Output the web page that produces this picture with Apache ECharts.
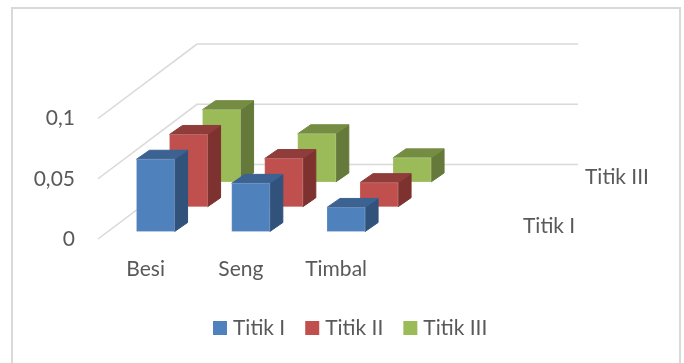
<!DOCTYPE html>
<html>
<head>
<meta charset="utf-8">
<style>html,body{margin:0;padding:0;background:#fff}#chart{width:684px;height:363px}</style>
<script src="https://cdn.jsdelivr.net/npm/echarts@6/dist/echarts.min.js"></script>
</head>
<body>
<div id="chart"></div>
<script>
// Metal readings per sampling point, drawn as a pseudo-3D column chart.
const categories = ['Besi', 'Seng', 'Timbal', ''];
const titikI = [0.06, 0.04, 0.02, null];
const titikII = [0.06, 0.04, 0.02, null];
const titikIII = [0.06, 0.04, 0.02, null];
const valueTicks = [0, 0.05, 0.1];
const depthLabels = ['Titik I', '', 'Titik III'];

const FONT = 'Lato';
const FONT_SIZE = 21;
const TEXT = '#595959';
const GRID_LINE = '#d9d9d9';

// Oblique projection: one depth row moves a point right and up by these pixels.
const ROW_DX = 33;
const ROW_DY = 24.8;
const ROW_COUNT = 3;
const BAR_SHARE = 0.4;      // bar width as a share of the category band
const BAR_DEPTH_DX = 13;
const BAR_DEPTH_DY = 9;
const ROW_INSET = 0.3;      // gap between a row's front edge and its bar
const LABEL_GAP = 44;       // floor's right end to the first row name
const LABEL_STEP = 31;      // horizontal step between row names

const palettes = [
  { front: '#4f81bd', side: '#31527b', top: '#3b6291' },
  { front: '#c0504d', side: '#7d322f', top: '#8f3c3a' },
  { front: '#9bbb59', side: '#64793a', top: '#758d43' }
];

function columnSeries(name, values, row) {
  const colors = palettes[row];
  return {
    type: 'custom',
    name: name,
    z: 10 - row,
    itemStyle: { color: colors.front },
    data: values.map((v, i) => [i, v]),
    renderItem(params, api) {
      if (api.value(1) === null || isNaN(api.value(1))) return null;
      const base = api.coord([api.value(0), 0]);
      const head = api.coord([api.value(0), api.value(1)]);
      const width = api.size([1, 0])[0] * BAR_SHARE;
      const shiftX = (row + ROW_INSET) * ROW_DX;
      const shiftY = (row + ROW_INSET) * ROW_DY;
      const l = base[0] + shiftX - width / 2;
      const r = l + width;
      const b = base[1] - shiftY;
      const t = head[1] - shiftY;
      const dx = BAR_DEPTH_DX;
      const dy = BAR_DEPTH_DY;
      const face = (points, fill, stroke) => ({
        type: 'polygon',
        shape: { points: points },
        style: { fill: fill, stroke: stroke, lineWidth: 1 }
      });
      return {
        type: 'group',
        children: [
          face([[r, b], [r + dx, b - dy], [r + dx, t - dy], [r, t]], colors.side, colors.side),
          face([[l, t], [r, t], [r + dx, t - dy], [l + dx, t - dy]], colors.top, colors.top),
          face([[l, b], [r, b], [r, t], [l, t]], colors.front, 'rgba(255,255,255,0.2)')
        ]
      };
    }
  };
}

const gridSeries = {
  type: 'custom',
  name: 'grid',
  z: 1,
  silent: true,
  data: valueTicks.map(v => [0, v]),
  renderItem(params, api) {
    const sys = params.coordSys;
    const y = api.coord([0, api.value(1)])[1];
    const backX = sys.x + ROW_DX * ROW_COUNT;
    const backY = y - ROW_DY * ROW_COUNT;
    return {
      type: 'polyline',
      shape: { points: [[sys.x, y], [backX, backY], [backX + sys.width, backY]] },
      style: { fill: null, stroke: GRID_LINE, lineWidth: 1.5 }
    };
  }
};

// Row names sit past the right end of the floor, along its depth edge.
const depthLabelSeries = {
  type: 'custom',
  name: 'depth',
  z: 2,
  silent: true,
  data: depthLabels.map((t, i) => [i, 0]),
  renderItem(params, api) {
    const row = api.value(0);
    const text = depthLabels[row];
    if (!text) return null;
    const sys = params.coordSys;
    return {
      type: 'text',
      style: {
        x: sys.x + sys.width + LABEL_GAP + row * LABEL_STEP,
        y: api.coord([0, 0])[1] - (row + 0.5) * ROW_DY,
        text: text,
        font: FONT_SIZE + 'px ' + FONT,
        fill: TEXT,
        align: 'left',
        verticalAlign: 'middle'
      }
    };
  }
};

const chart = echarts.init(document.getElementById('chart'), null, { renderer: 'canvas' });
chart.setOption({
  animation: false,
  backgroundColor: '#ffffff',
  textStyle: { fontFamily: FONT },
  graphic: [{
    type: 'rect',
    silent: true,
    z: -1,
    shape: { x: 12, y: 8, width: 668, height: 420 },
    style: { fill: '#ffffff', stroke: GRID_LINE, lineWidth: 2 }
  }],
  grid: { left: 98, right: 205, top: 118.5, bottom: 124, containLabel: false },
  xAxis: {
    type: 'category',
    data: categories,
    axisLine: { show: false },
    axisTick: { show: false },
    splitLine: { show: false },
    axisLabel: { color: TEXT, fontSize: FONT_SIZE, fontFamily: FONT, margin: 20, interval: 0 }
  },
  yAxis: {
    type: 'value',
    min: 0,
    max: 0.1,
    interval: 0.05,
    axisLine: { show: false },
    axisTick: { show: false },
    splitLine: { show: false },
    axisLabel: {
      color: TEXT,
      fontSize: FONT_SIZE,
      fontFamily: FONT,
      margin: 23,
      formatter: v => String(v).replace('.', ',')
    }
  },
  legend: {
    data: ['Titik I', 'Titik II', 'Titik III'],
    left: 213,
    top: 317.5,
    padding: 0,
    icon: 'rect',
    itemWidth: 14,
    itemHeight: 14,
    itemGap: 20,
    textStyle: { color: TEXT, fontSize: FONT_SIZE, fontFamily: FONT, padding: [0, 0, 0, 1] }
  },
  series: [
    gridSeries,
    depthLabelSeries,
    columnSeries('Titik I', titikI, 0),
    columnSeries('Titik II', titikII, 1),
    columnSeries('Titik III', titikIII, 2)
  ]
});
</script>
</body>
</html>
